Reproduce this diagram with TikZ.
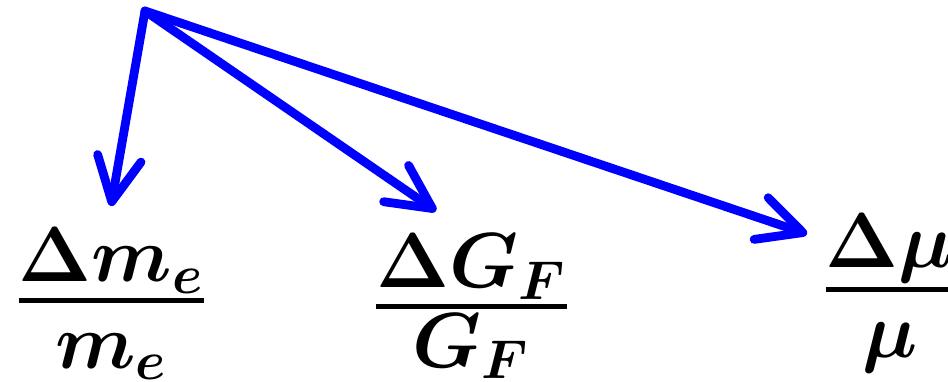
\RequirePackage{fix-cm}
\documentclass[tikz,border=0pt]{standalone}
\usepackage{amsmath}
\usepackage{tikz}
\usetikzlibrary{arrows.meta, positioning}
% fraction with a thick bar, parts kept at full size
\newcommand{\ratio}[3][5pt]{\genfrac{}{}{1.2pt}{1}{\mbox{$#2$}}{\raisebox{-#1}{$#3$}}}

\begin{document}
\begin{tikzpicture}[
      x=0.25pt, y=-0.25pt,
      frac/.style={anchor=base, inner sep=0pt, font=\fontsize{19.5}{24}\selectfont\boldmath},
      link/.style={-{Straight Barb[round, length=11pt, width=11pt]}, line width=2.2pt, blue, line cap=round},
    ]
    \useasboundingbox (0,0) rectangle (948,382);
    \node[frac] (me) at (111.5,320) {$\ratio[4.75pt]{\Delta m_e}{m_e}$};
    \node[frac] (gf) at (471.5,326) {$\ratio[2.5pt]{\Delta G_F}{G_F}$};
    \node[frac] (mu) at (890,309) {$\ratio[4.75pt]{\Delta\mu}{\mu}$};

    \coordinate (src) at (145,11);
    \coordinate (me-in) at (111,206);
    \coordinate (gf-in) at (436,211);
    \coordinate (mu-in) at (807,234);

    \draw[link] (src) -- (me-in);
    \draw[link] (src) -- (gf-in);
    \draw[link] (src) -- (mu-in);
  \end{tikzpicture}
\end{document}
